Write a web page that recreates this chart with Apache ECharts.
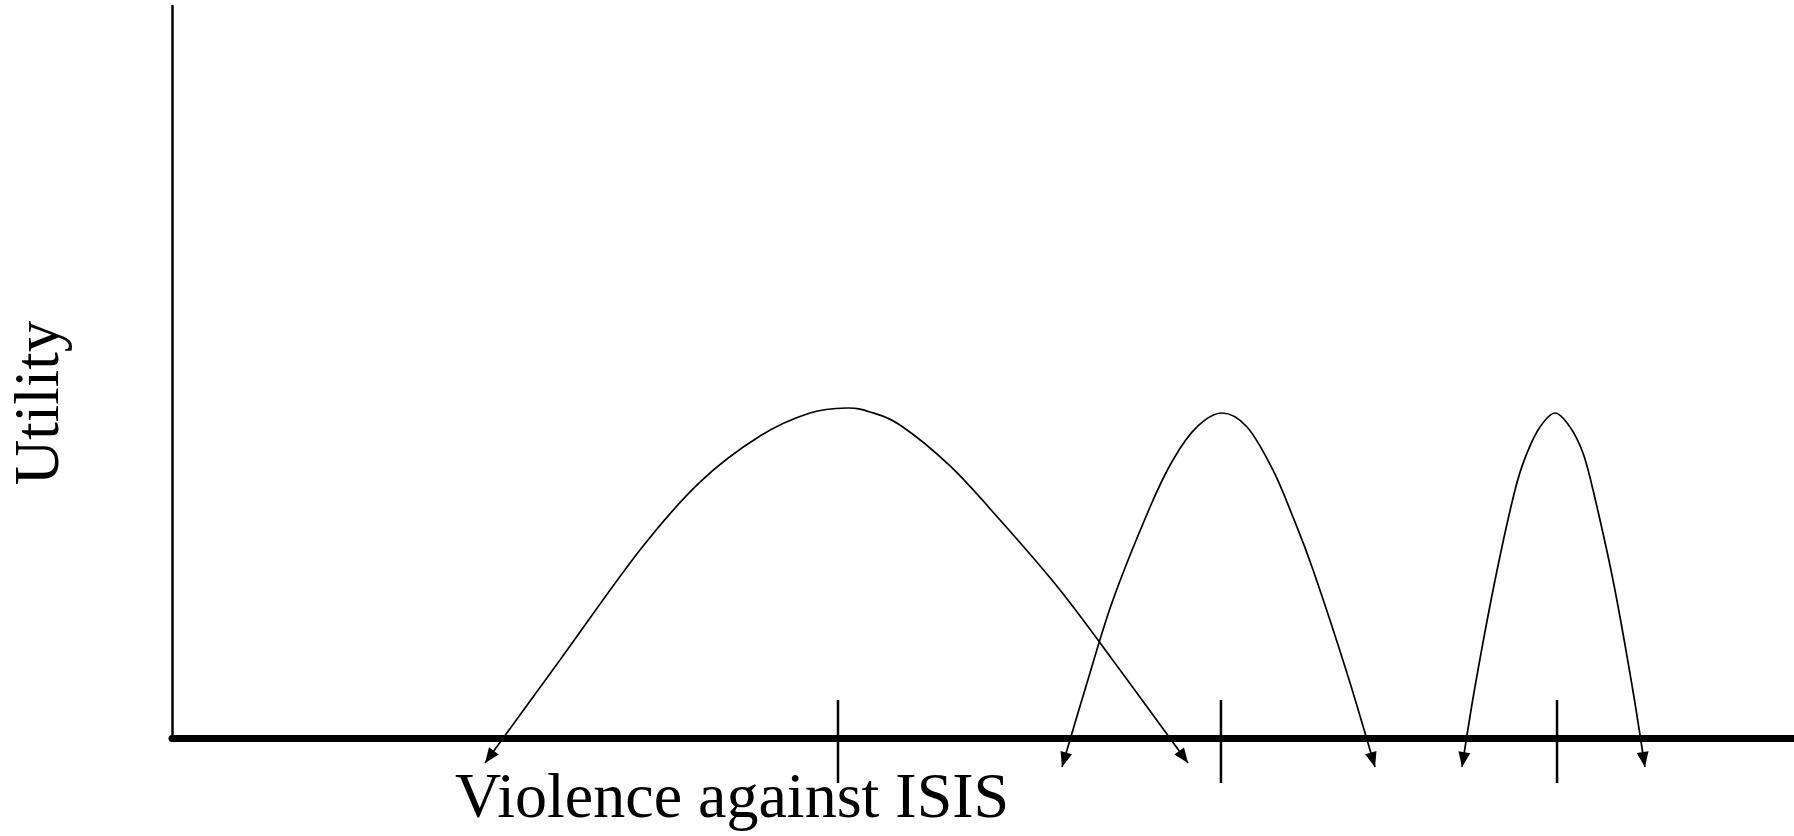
<!DOCTYPE html>
<html>
<head>
<meta charset="utf-8">
<script src="https://cdn.jsdelivr.net/npm/echarts@6/dist/echarts.min.js"></script>
<style>
html,body{margin:0;padding:0;background:#ffffff;}
#chart{width:1794px;height:836px;}
</style>
</head>
<body>
<div id="chart"></div>
<script>
// ---- text ----
const xAxisTitle = 'Violence against ISIS';
const yAxisTitle = 'Utility';

// ---- data (abstract units: x 0..100 along the violence axis, y 0..100 utility) ----
const curve1 = [
  [19.30, -3.42], [23.92, 10.66], [28.85, 25.68], [32.55, 34.97], [36.25, 41.26],
  [39.33, 44.40], [41.62, 45.08], [43.03, 44.54], [44.88, 42.76], [47.97, 37.16],
  [51.05, 29.78], [54.75, 20.22], [58.45, 9.29], [62.64, -3.42]
];
const curve2 = [
  [54.87, -3.96], [56.41, 7.51], [58.01, 18.85], [60.30, 31.56], [61.71, 37.98],
  [63.19, 42.49], [64.73, 44.40], [66.28, 42.49], [67.88, 36.61], [69.11, 30.19],
  [70.35, 22.95], [72.44, 8.88], [74.17, -3.96]
];
const curve3 = [
  [79.53, -3.96], [80.33, 6.97], [81.57, 21.58], [82.80, 33.88], [83.54, 38.93],
  [84.34, 42.49], [85.27, 44.40], [86.19, 42.49], [86.99, 38.93], [87.61, 33.88],
  [88.84, 21.58], [90.01, 7.24], [90.81, -3.96]
];
const idealPoints = [41.06, 64.67, 85.39];   // tick marks on the violence axis
const tickSpan = [5.19, -6.15];              // tick extends above and below axis

const curves = [curve1, curve2, curve3];

// arrow heads at both ends of each curve: [tipX, tipY, prevX, prevY]
const arrowData = [];
curves.forEach(c => {
  const n = c.length;
  arrowData.push([c[0][0], c[0][1], c[1][0], c[1][1]]);
  arrowData.push([c[n - 1][0], c[n - 1][1], c[n - 2][0], c[n - 2][1]]);
});

const serif = '"Liberation Serif", "Times New Roman", Times, serif';

// smooth curve through the data points (Catmull-Rom -> cubic Bezier), positions from the axes
function curveSeries(c, name) {
  return {
    name: name,
    type: 'custom',
    clip: false,
    silent: true,
    data: c,
    z: 3,
    renderItem: function (params, api) {
      if (params.dataIndex !== 0) return null;
      const p = c.map(v => api.coord(v));
      const children = [];
      for (let i = 0; i < p.length - 1; i++) {
        const p0 = p[i - 1] || p[i], p1 = p[i], p2 = p[i + 1], p3 = p[i + 2] || p[i + 1];
        children.push({
          type: 'bezierCurve',
          shape: {
            x1: p1[0], y1: p1[1], x2: p2[0], y2: p2[1],
            cpx1: p1[0] + (p2[0] - p0[0]) / 6, cpy1: p1[1] + (p2[1] - p0[1]) / 6,
            cpx2: p2[0] - (p3[0] - p1[0]) / 6, cpy2: p2[1] - (p3[1] - p1[1]) / 6
          },
          style: { stroke: '#000', lineWidth: 1.7, fill: null }
        });
      }
      return { type: 'group', children: children };
    }
  };
}

const series = [];
curves.forEach((c, i) => series.push(curveSeries(c, 'curve' + (i + 1))));
idealPoints.forEach((t, i) => {
  series.push({
    name: 'tick' + (i + 1),
    type: 'line',
    data: [[t, tickSpan[0]], [t, tickSpan[1]]],
    showSymbol: false,
    symbol: 'none',
    clip: false,
    silent: true,
    lineStyle: { color: '#000', width: 2.5 },
    z: 4
  });
});
series.push({
  name: 'arrows',
  type: 'custom',
  clip: false,
  silent: true,
  data: arrowData,
  z: 5,
  renderItem: function (params, api) {
    const tip = api.coord([api.value(0), api.value(1)]);
    const prev = api.coord([api.value(2), api.value(3)]);
    let dx = tip[0] - prev[0], dy = tip[1] - prev[1];
    const d = Math.hypot(dx, dy) || 1;
    dx /= d; dy /= d;
    const L = 15, W = 6;
    const bx = tip[0] - dx * L, by = tip[1] - dy * L;
    return {
      type: 'polygon',
      shape: { points: [tip, [bx - dy * W, by + dx * W], [bx + dy * W, by - dx * W]] },
      style: { fill: '#000', stroke: null }
    };
  }
});

const chart = echarts.init(document.getElementById('chart'), null, { renderer: 'canvas' });
chart.setOption({
  backgroundColor: '#ffffff',
  animation: false,
  grid: { left: 172, right: 0, top: 6, bottom: 98, containLabel: false, outerBoundsMode: 'none' },
  xAxis: {
    type: 'value', min: 0, max: 100,
    axisLine: { show: true, onZero: true, lineStyle: { color: '#000', width: 7 } },
    axisTick: { show: false }, axisLabel: { show: false }, splitLine: { show: false }
  },
  yAxis: {
    type: 'value', min: 0, max: 100,
    axisLine: { show: true, lineStyle: { color: '#000', width: 2.5 } },
    axisTick: { show: false }, axisLabel: { show: false }, splitLine: { show: false }
  },
  graphic: [
    {
      type: 'text', x: 41, y: 403, rotation: Math.PI / 2, silent: true,
      style: {
        text: yAxisTitle, fontSize: 63, fontFamily: serif, fill: '#000',
        align: 'center', verticalAlign: 'middle', textAlign: 'center', textVerticalAlign: 'middle'
      }
    },
    {
      type: 'text', x: 732, y: 800, silent: true,
      style: {
        text: xAxisTitle, fontSize: 64, fontFamily: serif, fill: '#000',
        align: 'center', verticalAlign: 'middle', textAlign: 'center', textVerticalAlign: 'middle'
      }
    }
  ],
  series: series
});
</script>
</body>
</html>
